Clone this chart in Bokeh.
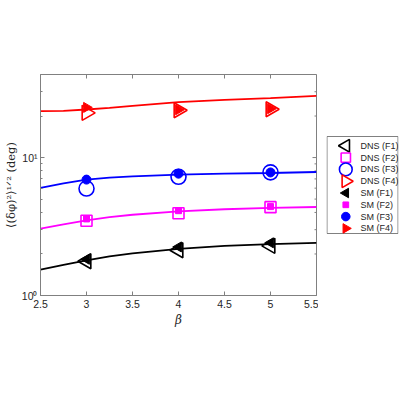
import math
from bokeh.plotting import figure
from bokeh.layouts import row
from bokeh.models import FixedTicker, Range1d
from bokeh.core.properties import value
from bokeh.embed import file_html
from bokeh.resources import INLINE

# SM model curves
beta_curve = [2.5, 2.75, 3.0, 3.25, 3.5, 4.0, 4.5, 5.0, 5.5]
curve_f1 = [1.54, 1.67, 1.80, 1.92, 2.02, 2.18, 2.29, 2.36, 2.41]
curve_f2 = [3.05, 3.28, 3.50, 3.70, 3.85, 4.07, 4.22, 4.32, 4.38]
curve_f3 = [6.02, 6.50, 6.92, 7.15, 7.30, 7.53, 7.65, 7.73, 7.86]
curve_f4 = [21.7, 21.8, 22.3, 22.9, 23.7, 25.2, 26.2, 27.0, 28.0]

# markers
beta_pts = [3, 4, 5]
dns_f1 = [1.77, 2.13, 2.29]
dns_f2 = [3.48, 3.95, 4.37]
dns_f3 = [5.96, 7.25, 7.81]
dns_f4 = [21.1, 22.0, 22.4]
sm_f1 = [1.83, 2.25, 2.41]
sm_f2 = [3.59, 4.12, 4.41]
sm_f3 = [6.92, 7.64, 7.80]
sm_f4 = [23.1, 22.2, 22.6]

labels_dns = ["DNS (F1)", "DNS (F2)", "DNS (F3)", "DNS (F4)"]
labels_sm = ["SM (F1)", "SM (F2)", "SM (F3)", "SM (F4)"]
x_ticks = [2.5, 3, 3.5, 4, 4.5, 5, 5.5]
y_ticks = [1, 10]
y_minor = [2, 3, 4, 5, 6, 7, 8, 9, 20, 30, 40]
X0, X1, Y0, Y1 = 2.5, 5.5, 1, 40

BLACK, MAG, BLUE, RED = "#000000", "#FF00FF", "#0000FF", "#FF0000"
AX = "#808080"
TXT = "#262626"
W, H = 318, 384
TOP, BOTTOM, LEFT, RIGHT = 74, 89, 40, 2
FW, FH = W - LEFT - RIGHT, H - TOP - BOTTOM

p = figure(width=W, height=H, y_axis_type="log",
           x_range=Range1d(X0, X1), y_range=Range1d(Y0, Y1),
           output_backend="svg", toolbar_location=None,
           min_border_left=LEFT, min_border_top=TOP, min_border_bottom=BOTTOM,
           min_border_right=RIGHT)
p.grid.visible = False
p.outline_line_color = AX
p.background_fill_color = "white"
p.border_fill_color = "white"

xa = p.xaxis[0]
xa.ticker = FixedTicker(ticks=x_ticks)
xa.major_label_overrides = {2.5: "2.5", 3: "3", 3.5: "3.5", 4: "4", 4.5: "4.5", 5: "5", 5.5: "5.5"}
xa.axis_label = "β"
xa.axis_label_text_font = "DejaVu Serif"
xa.axis_label_text_font_style = "italic"
xa.axis_label_text_font_size = "12px"
xa.axis_label_standoff = 2
ya = p.yaxis[0]
ya.ticker = FixedTicker(ticks=y_ticks, minor_ticks=y_minor)
ya.major_label_overrides = {1: "10⁰", 10: "10¹"}
ya.axis_label = "⟨(δφ)²⟩¹ᐟ² (deg)"
ya.axis_label_text_font = "DejaVu Serif"
ya.axis_label_text_font_style = "normal"
ya.axis_label_text_font_size = "11.5px"
ya.axis_label_standoff = 1
for a in (xa, ya):
    a.axis_line_color = AX
    a.major_tick_line_color = AX
    a.minor_tick_line_color = AX
    a.major_tick_in = 4
    a.major_tick_out = 0
    a.minor_tick_in = 2
    a.minor_tick_out = 0
    a.major_label_text_font = "Liberation Sans"
    a.major_label_text_font_size = "10.5px"
    a.major_label_text_color = TXT
    a.axis_label_text_color = TXT
    a.major_label_standoff = 4
xa.minor_tick_line_color = None
ya.major_label_standoff = 3

# inward ticks on the top and right edges of the box
dy_px = math.log10(Y1 / Y0) / FH
dx_px = (X1 - X0) / FW
p.segment(x0=x_ticks, y0=[Y1] * len(x_ticks), x1=x_ticks,
          y1=[Y1 / 10 ** (4 * dy_px)] * len(x_ticks), line_color=AX, line_width=1)
p.segment(x0=[X1] * len(y_ticks), y0=y_ticks, x1=[X1 - 4 * dx_px] * len(y_ticks),
          y1=y_ticks, line_color=AX, line_width=1)
p.segment(x0=[X1] * len(y_minor), y0=y_minor, x1=[X1 - 2 * dx_px] * len(y_minor),
          y1=y_minor, line_color=AX, line_width=1)

for ys, c in [(curve_f1, BLACK), (curve_f2, MAG), (curve_f3, BLUE), (curve_f4, RED)]:
    p.line(beta_curve, ys, line_color=c, line_width=1.8)

L = math.pi / 2
dns_specs = [(dns_f1, BLACK, "triangle", L, 15),
             (dns_f2, MAG, "square", 0, 11),
             (dns_f3, BLUE, "circle", 0, 15),
             (dns_f4, RED, "triangle", -L, 15)]
sm_specs = [(sm_f1, BLACK, "triangle", L, 10),
            (sm_f2, MAG, "square", 0, 6),
            (sm_f3, BLUE, "circle", 0, 9),
            (sm_f4, RED, "triangle", -L, 10)]

for ys, c, m, ang, s in dns_specs:
    p.scatter(beta_pts, ys, marker=m, angle=ang, size=s, line_color=c,
              fill_color=None, line_width=1.6)
for ys, c, m, ang, s in sm_specs:
    p.scatter(beta_pts, ys, marker=m, angle=ang, size=s, line_color=c,
              fill_color=c, line_width=1)

# ---- legend panel (separate small figure so rotated markers show correctly)
LW, LFW = 82, 72
BOX_T, BOX_H = 62, 97       # box offset from frame top, box height (px)
ROW_H = 11.8
ROW0 = 9.3
lg = figure(width=LW, height=H, x_range=Range1d(0, LFW), y_range=Range1d(FH, 0),
            output_backend="svg", toolbar_location=None,
            x_axis_location=None, y_axis_location=None,
            min_border_left=8, min_border_right=LW - 8 - LFW,
            min_border_top=TOP, min_border_bottom=BOTTOM)
lg.grid.visible = False
lg.outline_line_color = None
lg.border_fill_color = "white"
lg.background_fill_color = "white"
lg.quad(left=[0.5], right=[LFW - 0.5], top=[BOX_T], bottom=[BOX_T + BOX_H],
        fill_color="white", line_color=AX, line_width=1)

all_specs = [(c, m, ang, s * 0.85, False) for (_, c, m, ang, s) in dns_specs] + \
            [(c, m, ang, s * 0.95, True) for (_, c, m, ang, s) in sm_specs]
all_labels = labels_dns + labels_sm
row_y = [BOX_T + ROW0 + i * ROW_H for i in range(len(all_labels))]
for (c, m, ang, s, filled), yy in zip(all_specs, row_y):
    lg.scatter([19.3], [yy], marker=m, angle=ang, size=s, line_color=c,
               fill_color=c if filled else None, line_width=1 if filled else 1.6)
lg.text(x=[34.0] * len(all_labels), y=row_y,
        text=all_labels, text_font=value("Liberation Sans"), text_font_size="9px",
        text_color=TXT, text_baseline="middle", text_align="left")

layout = row(p, lg)
open("out.html", "w").write(file_html(layout, INLINE))
